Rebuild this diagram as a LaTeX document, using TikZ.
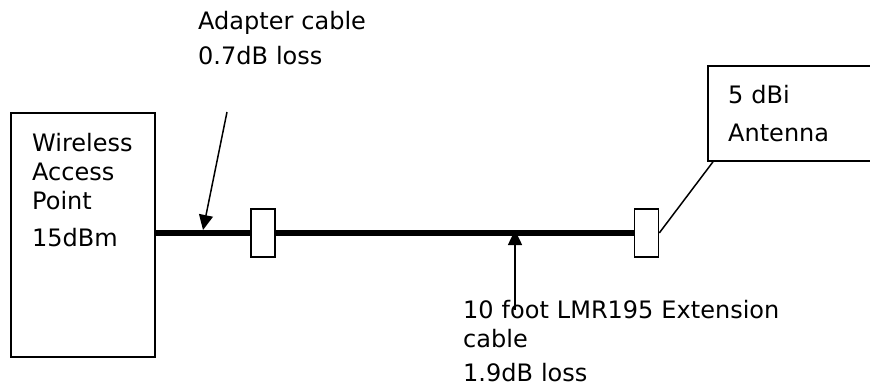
\documentclass[tikz,border=0pt]{standalone}
\usepackage{fontspec}
\setmainfont{DejaVu Sans}
\usepackage{tikz}
\usetikzlibrary{arrows.meta, positioning}

\tikzset{
  unit/.style={draw, line width=1.8pt, fill=white, inner sep=0pt},
  plug/.style={draw, line width=1.5pt, fill=white, minimum width=24pt, minimum height=48pt, inner sep=0pt},
  cable/.style={line width=6pt},
  pointer/.style={line width=1.5pt, -{Triangle[length=15pt, width=14pt]}},
  label text/.style={inner sep=0pt, anchor=base west, align=left, font=\fontsize{24}{29}\selectfont}
}

\begin{document}
\begin{tikzpicture}[x=1pt, y=-1pt]
\clip (0,0) rectangle (870,389);
\fill[white] (0,0) rectangle (870,389);
% Boxes
\node[unit, minimum width=144pt, minimum height=244pt] (ap) at (83,235) {};
\node[unit, anchor=north west, minimum width=180pt, minimum height=95pt] (ant) at (707,65) {};
% Connectors on the cable
\node[plug] (c1) at (263,233) {};
\node[plug] (c2) at (646.5,233) {};
% Cable
\draw[cable] (ap.east |- c1.west) -- (c1.west);
\draw[cable] (c1.east) -- (c2.west);
\draw[line width=1.5pt] (c2.east) -- ([xshift=6pt]ant.south west);
% Texts
\node[label text, text width=120pt] (aptext) at (32,151) {Wireless\\Access\\Point\\[8pt]15dBm};
\node[label text, text width=130pt] (anttext) at (728,103) {5 dBi\\[9pt]Antenna};
\node[label text, text width=200pt] (adapter) at (198,29) {Adapter cable\\[6pt]0.7dB loss};
\node[label text, text width=340pt] (extension) at (463,318) {10 foot LMR195 Extension\\cable\\[5pt]1.9dB loss};
% Pointers
\coordinate (adtail) at (227,112);
\coordinate (adtip) at (203,230);
\coordinate (extail) at (515,310);
\coordinate (extip) at (515,230);
\draw[pointer] (adtail) -- (adtip);
\draw[pointer] (extail) -- (extip);
\end{tikzpicture}
\end{document}
